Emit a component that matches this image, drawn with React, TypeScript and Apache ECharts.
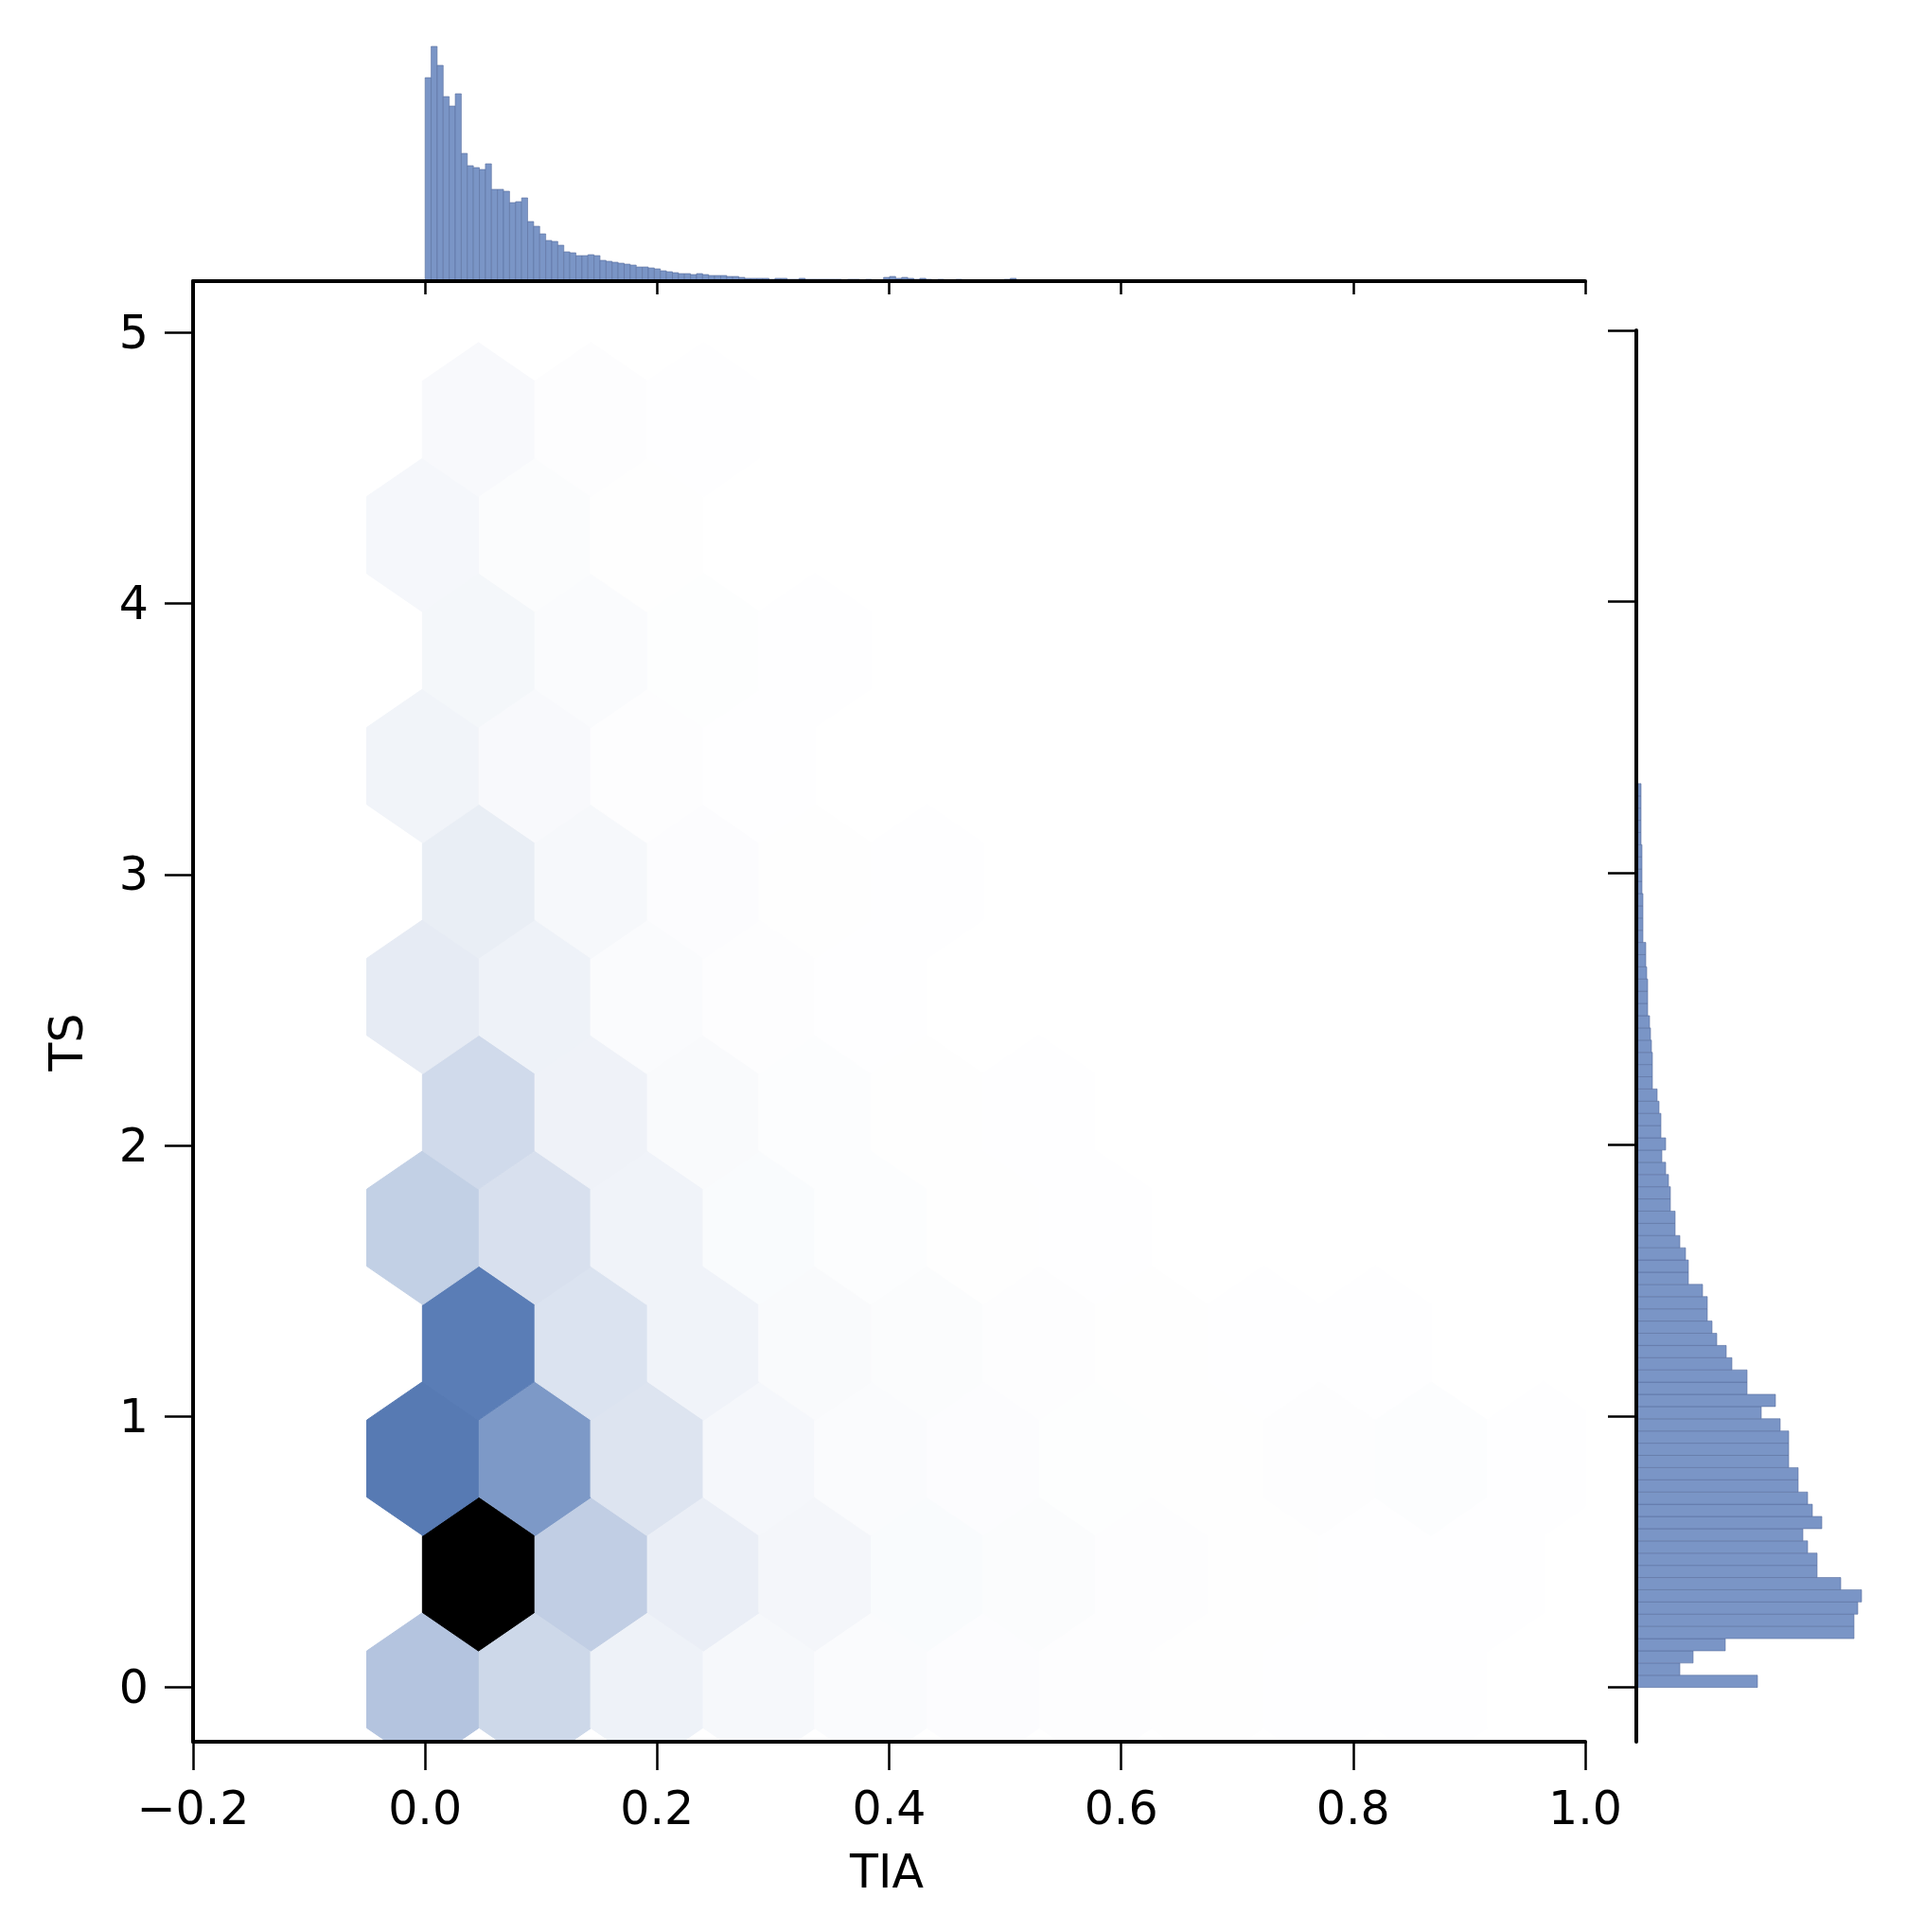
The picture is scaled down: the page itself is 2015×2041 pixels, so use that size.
import React, { useEffect, useRef } from "react";
import * as echarts from "echarts";

// ---------- data ----------
const xTickValues = [-0.2, 0.0, 0.2, 0.4, 0.6, 0.8, 1.0];
const yTickValues = [0, 1, 2, 3, 4, 5];
const xAxisTitle = "TIA";
const yAxisTitle = "TS";

// hexbin cells: centre x (TIA), centre y (TS), count (relative, max = 1000)
const hexX = [
  -0.002, 0.095, 0.191, 0.288, 0.384, 0.481, 0.578, 0.674, 0.771, 0.867, 0.964,
  0.046, 0.143, 0.240, 0.336, 0.433, 0.529, 0.626, 0.723, 0.819, 0.916,
  -0.002, 0.095, 0.191, 0.288, 0.384, 0.481, 0.578, 0.674, 0.771, 0.867, 0.964,
  0.046, 0.143, 0.240, 0.336, 0.433, 0.529, 0.626, 0.723, 0.819,
  -0.002, 0.095, 0.191, 0.288, 0.384, 0.481, 0.578,
  0.046, 0.143, 0.240, 0.336, 0.433, 0.529,
  -0.002, 0.095, 0.191, 0.288, 0.384,
  0.046, 0.143, 0.240, 0.336, 0.433,
  -0.002, 0.095, 0.191, 0.288,
  0.046, 0.143, 0.240, 0.336,
  -0.002, 0.095, 0.191,
  0.046, 0.143, 0.240,
];
const hexY = [
  -0.007, -0.007, -0.007, -0.007, -0.007, -0.007, -0.007, -0.007, -0.007, -0.007, -0.007,
  0.419, 0.419, 0.419, 0.419, 0.419, 0.419, 0.419, 0.419, 0.419, 0.419,
  0.845, 0.845, 0.845, 0.845, 0.845, 0.845, 0.845, 0.845, 0.845, 0.845, 0.845,
  1.271, 1.271, 1.271, 1.271, 1.271, 1.271, 1.271, 1.271, 1.271,
  1.697, 1.697, 1.697, 1.697, 1.697, 1.697, 1.697,
  2.123, 2.123, 2.123, 2.123, 2.123, 2.123,
  2.549, 2.549, 2.549, 2.549, 2.549,
  2.975, 2.975, 2.975, 2.975, 2.975,
  3.401, 3.401, 3.401, 3.401,
  3.827, 3.827, 3.827, 3.827,
  4.253, 4.253, 4.253,
  4.679, 4.679, 4.679,
];
const hexCount = [
  210, 140, 48, 24, 14, 9, 6, 4, 3, 2, 1,
  1000, 175, 60, 32, 16, 10, 6, 4, 3, 2,
  480, 365, 95, 28, 15, 9, 5, 4, 6, 8, 2,
  465, 100, 42, 18, 10, 6, 4, 3, 2,
  170, 110, 42, 16, 8, 4, 2,
  133, 45, 18, 8, 4, 2,
  70, 48, 14, 6, 3,
  62, 24, 9, 4, 2,
  38, 20, 7, 3,
  30, 13, 5, 2,
  28, 12, 4,
  20, 7, 3,
];
const hexWidth = 0.0966; // x extent of one hexagon
const hexRowStep = 0.852; // y distance between rows of one lattice

// top marginal: TIA histogram (bins start at 0)
const tiaBinWidth = 0.0052;
const tiaCounts = [
  215, 248, 228, 195, 185, 198, 135, 122, 120, 118,
  124, 97, 97, 95, 83, 84, 88, 63, 58, 50,
  43, 42, 38, 31, 30, 27, 27, 28, 27, 22,
  21, 20, 19, 18, 17, 15, 15, 14, 13, 11,
  10, 9, 8, 8, 7, 8, 7, 6, 6, 6,
  5, 5, 4, 3, 3, 3, 3, 2, 3, 3,
  2, 2, 3, 2, 2, 2, 2, 2, 2, 1,
  2, 2, 1, 2, 1, 1, 4, 5, 3, 4,
  3, 2, 3, 2, 1, 2, 1, 1, 2, 1,
  1, 1, 1, 0, 1, 0, 2, 3, 1, 0,
];

// right marginal: TS histogram (bins start at 0)
const tsBinWidth = 0.045;
const tsCounts = [
  128, 46, 60, 94, 230, 230, 234, 238, 216, 191,
  191, 181, 176, 196, 186, 181, 171, 171, 161, 161,
  161, 152, 132, 147, 117, 117, 101, 95, 85, 80,
  75, 75, 70, 55, 55, 52, 46, 41, 41, 36,
  36, 34, 31, 27, 31, 26, 26, 24, 22, 17,
  17, 17, 16, 15, 14, 12, 12, 12, 11, 10,
  10, 7, 7, 7, 7, 6, 6, 6, 6, 5,
  5, 5, 5, 5,
];

// ---------- colour map (white -> blue -> black, like seaborn's hex cmap) ----------
function hlsToRgb(h: number, l: number, s: number): number[] {
  if (s === 0) return [l, l, l];
  const m2 = l <= 0.5 ? l * (1 + s) : l + s - l * s;
  const m1 = 2 * l - m2;
  const v = (hue: number) => {
    hue = ((hue % 1) + 1) % 1;
    if (hue < 1 / 6) return m1 + (m2 - m1) * hue * 6;
    if (hue < 0.5) return m2;
    if (hue < 2 / 3) return m1 + (m2 - m1) * (2 / 3 - hue) * 6;
    return m1;
  };
  return [v(h + 1 / 3), v(h), v(h - 1 / 3)];
}
const BASE_H = 217.2 / 360;
const BASE_S = 0.397;
const ramp: number[][] = [];
for (let k = 0; k < 12; k++) ramp.push(hlsToRgb(BASE_H, 1 - k / 11, BASE_S));
function cmap(t: number): string {
  t = Math.max(0, Math.min(1, t));
  const p = t * 11;
  const k = Math.min(10, Math.floor(p));
  const f = p - k;
  const a = ramp[k];
  const b = ramp[k + 1];
  const c = a.map((x, i) => Math.round(255 * (x + (b[i] - x) * f)));
  return `rgb(${c[0]},${c[1]},${c[2]})`;
}

// clip a polygon (data space) to an axis-aligned box
function clipPolygon(pts: number[][], x0: number, x1: number, y0: number, y1: number) {
  const edges: [(p: number[]) => boolean, (a: number[], b: number[]) => number[]][] = [
    [(p) => p[0] >= x0, (a, b) => { const t = (x0 - a[0]) / (b[0] - a[0]); return [x0, a[1] + t * (b[1] - a[1])]; }],
    [(p) => p[0] <= x1, (a, b) => { const t = (x1 - a[0]) / (b[0] - a[0]); return [x1, a[1] + t * (b[1] - a[1])]; }],
    [(p) => p[1] >= y0, (a, b) => { const t = (y0 - a[1]) / (b[1] - a[1]); return [a[0] + t * (b[0] - a[0]), y0]; }],
    [(p) => p[1] <= y1, (a, b) => { const t = (y1 - a[1]) / (b[1] - a[1]); return [a[0] + t * (b[0] - a[0]), y1]; }],
  ];
  let out = pts;
  for (const [inside, inter] of edges) {
    const inp = out;
    out = [];
    for (let i = 0; i < inp.length; i++) {
      const cur = inp[i];
      const prev = inp[(i + inp.length - 1) % inp.length];
      if (inside(cur)) {
        if (!inside(prev)) out.push(inter(prev, cur));
        out.push(cur);
      } else if (inside(prev)) {
        out.push(inter(prev, cur));
      }
    }
    if (!out.length) break;
  }
  return out;
}

const FONT = "'DejaVu Sans', 'Liberation Sans', Arial, sans-serif";
const FONT_SIZE = 49;
const BAR_FILL = "#7a95c6";
const BAR_EDGE = "#5a71a0";
const X_MIN = -0.2, X_MAX = 1.0, Y_MIN = -0.2, Y_MAX = 5.19;
const AXIS_Z = 10;

export default function App() {
  const ref = useRef<HTMLDivElement>(null);

  useEffect(() => {
    document.body.style.margin = "0";
    if (!ref.current) return;
    const chart = echarts.init(ref.current, undefined, { renderer: "svg" });
    const maxCount = Math.max(...hexCount);
    const hexOffsets = [
      [0.5, -0.5], [0.5, 0.5], [0, 1], [-0.5, 0.5], [-0.5, -0.5], [0, -1],
    ];

    const hexData = hexX.map((x, i) => [x, hexY[i], hexCount[i]]);
    const tiaData = tiaCounts.map((c, i) => [i * tiaBinWidth, (i + 1) * tiaBinWidth, c]);
    const tsData = tsCounts.map((c, i) => [i * tsBinWidth, (i + 1) * tsBinWidth, c]);

    const axisLineStyle = { color: "#000", width: 4 };
    const tickStyle = { color: "#000", width: 2.5 };
    const fmt = (v: number) => {
      const s = v.toFixed(1);
      return s.charAt(0) === "-" ? "\u2212" + s.slice(1) : s;
    };

    chart.setOption({
      animation: false,
      backgroundColor: "#fff",
      grid: [
        { left: 204, top: 297, width: 1471, height: 1543 },
        { left: 204, top: 40, width: 1471, height: 257 },
        { left: 1729, top: 349, width: 270, height: 1491 },
      ],
      xAxis: [
        {
          gridIndex: 0, type: "value", min: X_MIN, max: X_MAX, interval: 0.2, z: AXIS_Z,
          axisLine: { show: true, onZero: false, lineStyle: axisLineStyle },
          axisTick: { show: true, length: 30, lineStyle: tickStyle },
          axisLabel: {
            margin: 46, fontSize: FONT_SIZE, color: "#000", fontFamily: FONT,
            formatter: fmt,
          },
          splitLine: { show: false },
        },
        {
          gridIndex: 1, type: "value", min: X_MIN, max: X_MAX, interval: 0.2, z: AXIS_Z,
          axisLine: { show: true, onZero: false, lineStyle: axisLineStyle },
          axisTick: { show: true, length: 14, lineStyle: tickStyle },
          axisLabel: { show: false },
          splitLine: { show: false },
        },
        { gridIndex: 2, type: "value", min: 0, max: 270, show: false },
      ],
      yAxis: [
        {
          gridIndex: 0, type: "value", min: Y_MIN, max: Y_MAX, z: AXIS_Z,
          axisLine: { show: true, onZero: false, lineStyle: axisLineStyle },
          axisTick: { show: true, length: 30, lineStyle: tickStyle, customValues: yTickValues },
          axisLabel: {
            margin: 47, fontSize: FONT_SIZE, color: "#000", fontFamily: FONT,
            customValues: yTickValues, formatter: (v: number) => String(v),
          },
          splitLine: { show: false },
        },
        { gridIndex: 1, type: "value", min: 0, max: 257, show: false },
        {
          gridIndex: 2, type: "value", min: -0.2, max: 5.0, z: AXIS_Z,
          axisLine: { show: true, onZero: false, lineStyle: axisLineStyle },
          axisTick: { show: true, length: 30, lineStyle: tickStyle, customValues: yTickValues },
          axisLabel: { show: false },
          splitLine: { show: false },
        },
      ],
      series: [
        {
          type: "custom",
          xAxisIndex: 0, yAxisIndex: 0,
          clip: false,
          encode: { x: 0, y: 1 },
          data: hexData,
          z: 1,
          renderItem: (params: any, api: any) => {
            const cx = api.value(0);
            const cy = api.value(1);
            const c = api.value(2);
            const raw = hexOffsets.map(([dx, dy]) => [cx + dx * hexWidth, cy + (dy * hexRowStep) / 3]);
            const clipped = clipPolygon(raw, X_MIN, X_MAX, Y_MIN, Y_MAX);
            if (clipped.length < 3) return null;
            const pts = clipped.map((p) => api.coord(p));
            const col = cmap(c / maxCount);
            return {
              type: "polygon",
              shape: { points: pts },
              style: { fill: col, stroke: col, lineWidth: 1 },
            };
          },
        },
        {
          type: "custom",
          xAxisIndex: 1, yAxisIndex: 1,
          encode: { x: [0, 1], y: 2 },
          data: tiaData,
          z: 1,
          renderItem: (params: any, api: any) => {
            const p0 = api.coord([api.value(0), api.value(2)]);
            const p1 = api.coord([api.value(1), 0]);
            return {
              type: "rect",
              shape: { x: p0[0], y: p0[1], width: p1[0] - p0[0], height: p1[1] - p0[1] },
              style: { fill: BAR_FILL, stroke: BAR_EDGE, lineWidth: 0.6 },
            };
          },
        },
        {
          type: "custom",
          xAxisIndex: 2, yAxisIndex: 2,
          encode: { x: 2, y: [0, 1] },
          data: tsData,
          z: 1,
          renderItem: (params: any, api: any) => {
            const p0 = api.coord([0, api.value(1)]);
            const p1 = api.coord([api.value(2), api.value(0)]);
            return {
              type: "rect",
              shape: { x: p0[0], y: p0[1], width: p1[0] - p0[0], height: p1[1] - p0[1] },
              style: { fill: BAR_FILL, stroke: BAR_EDGE, lineWidth: 0.6 },
            };
          },
        },
      ],
      graphic: [
        {
          type: "text",
          x: 70, y: 1101,
          rotation: Math.PI / 2,
          style: {
            text: yAxisTitle, fontSize: FONT_SIZE, fontFamily: FONT, fill: "#000",
            textAlign: "center", textVerticalAlign: "middle",
          },
        },
        {
          type: "text",
          x: 937, y: 1977,
          style: {
            text: xAxisTitle, fontSize: FONT_SIZE, fontFamily: FONT, fill: "#000",
            textAlign: "center", textVerticalAlign: "middle",
          },
        },
      ],
    });

    return () => chart.dispose();
  }, []);

  return <div ref={ref} style={{ width: 2015, height: 2041 }} />;
}
